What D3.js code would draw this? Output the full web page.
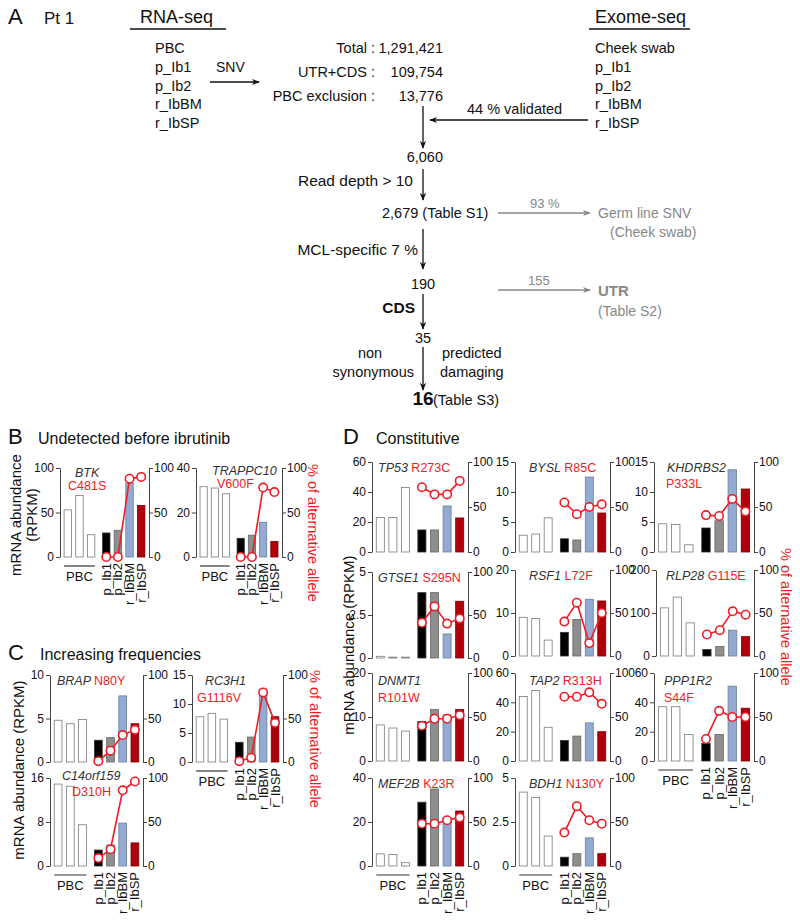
<!DOCTYPE html>
<html><head><meta charset="utf-8">
<script src="https://cdn.jsdelivr.net/npm/d3@7/dist/d3.min.js"></script>
<style>body{margin:0;background:#fff}svg{display:block}text{font-family:"Liberation Sans",Arial,Helvetica,sans-serif}</style>
</head><body><svg id="c" width="800" height="921"></svg>
<script>
// ---------- data ----------
const samples = ["PBC1","PBC2","PBC3","p_Ib1","p_Ib2","r_IbBM","r_IbSP"];
const treated = ["p_Ib1","p_Ib2","r_IbBM","r_IbSP"];
const rnaSamples = ["PBC","p_Ib1","p_Ib2","r_IbBM","r_IbSP"];
const exomeSamples = ["Cheek swab","p_Ib1","p_Ib2","r_IbBM","r_IbSP"];
const funnelLabels = ["Total :","UTR+CDS :","PBC exclusion :"];
const funnelValues = ["1,291,421","109,754","13,776"];

const BTK_rpkm = [53,69,25,27,30,83,58];         const BTK_alt = [0,0,88,90];
const TRAPPC10_rpkm = [31.6,31,28.4,8.4,9.8,15.6,7]; const TRAPPC10_alt = [0,0,78,73];
const BRAP_rpkm = [4.8,4.4,4.9,2.5,2.8,7.6,4.4];  const BRAP_alt = [1,13,31,37];
const RC3H1_rpkm = [7.8,8.4,7.4,3.4,4.3,11.5,7.8]; const RC3H1_alt = [1,5,80,45];
const C14orf159_rpkm = [14.9,14.5,7.5,2.9,3.8,7.8,4.2]; const C14orf159_alt = [9,19,86,96];
const TP53_rpkm = [23,23,43,14.7,14.7,30.7,22.7]; const TP53_alt = [72,64,64,79];
const BYSL_rpkm = [2.8,3.0,5.7,2.2,2.0,12.5,6.5]; const BYSL_alt = [55,42,50,53];
const KHDRBS2_rpkm = [4.7,4.6,1.2,4.0,5.2,13.7,10.5]; const KHDRBS2_alt = [41,40,59,45];
const GTSE1_rpkm = [0.1,0.05,0.05,3.8,3.8,1.4,3.3]; const GTSE1_alt = [41,60,40,46];
const RSF1_rpkm = [9,8.7,3.7,5.5,8.5,13.2,12.8]; const RSF1_alt = [40,62,15,50];
const RLP28_rpkm = [112,137,77,15,22,60,45]; const RLP28_alt = [25,30,52,48];
const DNMT1_rpkm = [8.2,7.5,6.8,9,11.7,10.5,11.7]; const DNMT1_alt = [40,48,48,52];
const TAP2_rpkm = [44,48,23,14,17,26,20]; const TAP2_alt = [73,73,78,65];
const PPP1R2_rpkm = [37,37,18,12,18,51,36]; const PPP1R2_alt = [25,57,50,50];
const MEF2B_rpkm = [5.5,5.2,1.5,29,35,22,25]; const MEF2B_alt = [48,48,52,55];
const BDH1_rpkm = [4.2,3.9,1.7,0.5,0.7,1.6,0.7]; const BDH1_alt = [38,68,52,48];

const altTicks = [0,50,100];

const charts = [
 {id:"BTK", gene:"BTK", mut:"C481S", rpkm:BTK_rpkm, alt:BTK_alt, yMax:100, ticks:[0,50,100]},
 {id:"TRAPPC10", gene:"TRAPPC10", mut:"V600F", rpkm:TRAPPC10_rpkm, alt:TRAPPC10_alt, yMax:40, ticks:[0,20,40]},
 {id:"BRAP", gene:"BRAP", mut:"N80Y", rpkm:BRAP_rpkm, alt:BRAP_alt, yMax:10, ticks:[0,5,10]},
 {id:"RC3H1", gene:"RC3H1", mut:"G1116V", rpkm:RC3H1_rpkm, alt:RC3H1_alt, yMax:15, ticks:[0,5,10,15]},
 {id:"C14orf159", gene:"C14orf159", mut:"D310H", rpkm:C14orf159_rpkm, alt:C14orf159_alt, yMax:16, ticks:[0,8,16]},
 {id:"TP53", gene:"TP53", mut:"R273C", rpkm:TP53_rpkm, alt:TP53_alt, yMax:60, ticks:[0,20,40,60]},
 {id:"BYSL", gene:"BYSL", mut:"R85C", rpkm:BYSL_rpkm, alt:BYSL_alt, yMax:15, ticks:[0,5,10,15]},
 {id:"KHDRBS2", gene:"KHDRBS2", mut:"P333L", rpkm:KHDRBS2_rpkm, alt:KHDRBS2_alt, yMax:15, ticks:[0,5,10,15]},
 {id:"GTSE1", gene:"GTSE1", mut:"S295N", rpkm:GTSE1_rpkm, alt:GTSE1_alt, yMax:5, ticks:[0,2.5,5]},
 {id:"RSF1", gene:"RSF1", mut:"L72F", rpkm:RSF1_rpkm, alt:RSF1_alt, yMax:20, ticks:[0,10,20]},
 {id:"RLP28", gene:"RLP28", mut:"G115E", rpkm:RLP28_rpkm, alt:RLP28_alt, yMax:200, ticks:[0,100,200]},
 {id:"DNMT1", gene:"DNMT1", mut:"R101W", rpkm:DNMT1_rpkm, alt:DNMT1_alt, yMax:20, ticks:[0,10,20]},
 {id:"TAP2", gene:"TAP2", mut:"R313H", rpkm:TAP2_rpkm, alt:TAP2_alt, yMax:60, ticks:[0,20,40,60]},
 {id:"PPP1R2", gene:"PPP1R2", mut:"S44F", rpkm:PPP1R2_rpkm, alt:PPP1R2_alt, yMax:60, ticks:[0,20,40,60]},
 {id:"MEF2B", gene:"MEF2B", mut:"K23R", rpkm:MEF2B_rpkm, alt:MEF2B_alt, yMax:40, ticks:[0,20,40]},
 {id:"BDH1", gene:"BDH1", mut:"N130Y", rpkm:BDH1_rpkm, alt:BDH1_alt, yMax:5, ticks:[0,2.5,5]}
];

// ---------- layout ----------
const layout = {
 BTK:{x0:60,x1:149,y0:468,y1:557,lab:"two",d:[15,9,8,22],xl:true},
 TRAPPC10:{x0:196,x1:282,y0:468,y1:557,lab:"two",d:[16,7,21,20],xl:true},
 BRAP:{x0:50,x1:143,y0:675,y1:762,lab:"one",d:[7,10]},
 RC3H1:{x0:192,x1:283,y0:675,y1:762,lab:"two",d:[13,10,5,27],xl:true},
 C14orf159:{x0:50,x1:143,y0:778,y1:866,lab:"two",d:[12,2,22,18],xl:true},
 TP53:{x0:372,x1:468,y0:462,y1:552,lab:"one",d:[6,10]},
 BYSL:{x0:515,x1:610,y0:462,y1:552,lab:"one",d:[14,10]},
 KHDRBS2:{x0:654,x1:754,y0:462,y1:552,lab:"two",d:[13,10,12,26]},
 GTSE1:{x0:372,x1:468,y0:572,y1:658,lab:"one",d:[6,10]},
 RSF1:{x0:515,x1:610,y0:570,y1:656,lab:"one",d:[14,10]},
 RLP28:{x0:656,x1:754,y0:570,y1:656,lab:"one",d:[10,10]},
 DNMT1:{x0:372,x1:468,y0:673,y1:761,lab:"two",d:[6,12,6,29]},
 TAP2:{x0:515,x1:610,y0:673,y1:761,lab:"one",d:[14,12]},
 PPP1R2:{x0:654,x1:754,y0:673,y1:761,lab:"two",d:[10,12,10,29],xl:true},
 MEF2B:{x0:372,x1:468,y0:778,y1:866,lab:"one",d:[6,10],xl:true},
 BDH1:{x0:515,x1:610,y0:778,y1:866,lab:"one",d:[14,10],xl:true}
};
const fills = ["#fff","#fff","#fff","#000","#8e8e8e","#93aad2","#b0000c"];
const strokes = ["#7a7a7a","#7a7a7a","#7a7a7a","#333","#666","#6f7f99","#700"];
const RED = "#ee1c25";
const pos = [0,1,2,3.3,4.3,5.3,6.3];

const svg = d3.select("#c");
const fmt = d3.format("~g");

function drawChart(c, L) {
  const g = svg.append("g").attr("class","chart");
  const x = d3.scaleLinear().domain([-0.5,6.8]).range([L.x0+2,L.x1-2]);
  const bw = (x(1)-x(0))*0.64;
  const y = d3.scaleLinear().domain([0,c.yMax]).range([L.y1,L.y0]);
  const y2 = d3.scaleLinear().domain([0,100]).range([L.y1,L.y0]);
  g.selectAll("rect").data(c.rpkm).join("rect")
    .attr("x",(d,i)=>x(pos[i])-bw/2).attr("y",d=>y(d))
    .attr("width",bw).attr("height",d=>y(0)-y(d))
    .attr("fill",(d,i)=>fills[i]).attr("stroke",(d,i)=>strokes[i]).attr("stroke-width",0.8);
  const ax = g.append("g").attr("transform",`translate(${L.x0},0)`)
    .call(d3.axisLeft(y).tickValues(c.ticks).tickSize(4).tickPadding(2).tickSizeOuter(0).tickFormat(fmt));
  const ax2 = g.append("g").attr("transform",`translate(${L.x1},0)`)
    .call(d3.axisRight(y2).tickValues(altTicks).tickSize(4).tickPadding(1).tickSizeOuter(0));
  [ax,ax2].forEach(a=>{
    a.select(".domain").attr("stroke","#444");
    a.selectAll(".tick line").attr("stroke","#444");
    a.selectAll("text").attr("font-size",12).attr("fill","#111").attr("font-family","Liberation Sans, Arial, sans-serif");
  });
  const pts = c.alt.map((v,i)=>[x(pos[i+3]), y2(v)]);
  g.append("path").attr("d",d3.line()(pts)).attr("fill","none").attr("stroke",RED).attr("stroke-width",1.6);
  g.selectAll("circle").data(pts).join("circle").attr("cx",d=>d[0]).attr("cy",d=>d[1]).attr("r",4.2)
    .attr("fill","#fff").attr("stroke",RED).attr("stroke-width",1.6);
  if (L.lab==="one") {
    const t = g.append("text").attr("x",L.x0+L.d[0]).attr("y",L.y0+L.d[1]).attr("font-size",12.5);
    t.append("tspan").attr("font-style","italic").attr("fill","#333").text(c.gene+" ");
    t.append("tspan").attr("fill",RED).text(c.mut);
  } else {
    g.append("text").attr("x",L.x0+L.d[0]).attr("y",L.y0+L.d[1]).attr("font-size",12.5)
      .attr("font-style","italic").attr("fill","#333").text(c.gene);
    g.append("text").attr("x",L.x0+L.d[2]).attr("y",L.y0+L.d[3]).attr("font-size",12.5)
      .attr("fill",RED).text(c.mut);
  }
  if (L.xl) {
    const y0 = L.y1;
    g.append("line").attr("x1",x(pos[0])-bw/2).attr("x2",x(pos[2])+bw/2)
      .attr("y1",y0+9).attr("y2",y0+9).attr("stroke","#333").attr("stroke-width",1.2);
    g.append("text").attr("x",x(pos[1])).attr("y",y0+24).attr("text-anchor","middle")
      .attr("font-size",13).attr("fill","#111").text("PBC");
    g.selectAll("text.xl").data(treated).join("text").attr("class","xl")
      .attr("transform",(d,i)=>`translate(${x(pos[i+3])+4.5},${y0+6}) rotate(-90)`)
      .attr("text-anchor","end").attr("font-size",13).attr("fill","#111").text(d=>d);
  }
}
charts.forEach(c=>drawChart(c, layout[c.id]));

function txt(x,y,s,opt={}) {
  const t = svg.append("text").attr("x",x).attr("y",y).text(s)
    .attr("font-size",opt.size||14).attr("fill",opt.fill||"#111");
  if(opt.anchor) t.attr("text-anchor",opt.anchor);
  if(opt.weight) t.attr("font-weight",opt.weight);
  if(opt.style) t.attr("font-style",opt.style);
  if(opt.rot!==undefined) t.attr("transform",`rotate(${opt.rot},${x},${y})`);
  return t;
}
txt(8,444,"B",{size:22}); txt(38,444,"Undetected before ibrutinib",{size:16});
txt(8,660,"C",{size:22}); txt(40,660,"Increasing frequencies",{size:16});
txt(343,444,"D",{size:22}); txt(376,444,"Constitutive",{size:16});

txt(21,515,"mRNA abundance",{size:15,anchor:"middle",rot:-90});
txt(37,515,"(RPKM)",{size:15,anchor:"middle",rot:-90});
txt(24,770,"mRNA abundance (RPKM)",{size:15,anchor:"middle",rot:-90});
txt(354,645,"mRNA abundance (RPKM)",{size:15,anchor:"middle",rot:-90});
txt(308,464,"% of alternative allele",{size:14.5,fill:RED,rot:90});
txt(310,670,"% of alternative allele",{size:14.5,fill:RED,rot:90});
txt(781,548,"% of alternative allele",{size:14.5,fill:RED,rot:90});

// ---------- panel A flow ----------
txt(8,24,"A",{size:22}); txt(44,24,"Pt 1",{size:17});
const defs = svg.append("defs");
defs.append("marker").attr("id","ah").attr("viewBox","0 0 10 10").attr("refX",9).attr("refY",5)
  .attr("markerWidth",8).attr("markerHeight",8).attr("orient","auto").attr("markerUnits","userSpaceOnUse")
  .append("path").attr("d","M0,1 L10,5 L0,9 L3,5 Z").attr("fill","#111");
defs.append("marker").attr("id","ahg").attr("viewBox","0 0 10 10").attr("refX",9).attr("refY",5)
  .attr("markerWidth",8).attr("markerHeight",8).attr("orient","auto").attr("markerUnits","userSpaceOnUse")
  .append("path").attr("d","M0,1 L10,5 L0,9 L3,5 Z").attr("fill","#888");
function arrow(x1,y1,x2,y2,gray){
  svg.append("line").attr("x1",x1).attr("y1",y1).attr("x2",x2).attr("y2",y2)
    .attr("stroke",gray?"#888":"#111").attr("stroke-width",1.3).attr("marker-end",`url(#${gray?"ahg":"ah"})`);
}
txt(140,23,"RNA-seq",{size:18});
svg.append("line").attr("x1",130).attr("x2",226).attr("y1",29).attr("y2",29).attr("stroke","#111").attr("stroke-width",1.5);
txt(595,23,"Exome-seq",{size:18});
svg.append("line").attr("x1",589).attr("x2",690).attr("y1",29).attr("y2",29).attr("stroke","#111").attr("stroke-width",1.5);
rnaSamples.forEach((s,i)=>txt(155,53+i*18.8,s,{size:14.5}));
exomeSamples.forEach((s,i)=>txt(595,53+i*18.8,s,{size:14.5}));
txt(216,72,"SNV",{size:14});
arrow(210,82,259,82);
funnelLabels.forEach((s,i)=>txt(375,[53,77,101][i],s,{size:14.5,anchor:"end"}));
funnelValues.forEach((s,i)=>txt(443,[53,77,101][i],s,{size:14.5,anchor:"end"}));
arrow(423,106,423,148);
txt(467,114,"44 % validated",{size:14.5});
arrow(588,120,430,120);
txt(443,162,"6,060",{size:14.5,anchor:"end"});
arrow(423,169,423,200);
txt(413,186,"Read depth > 10",{size:15.5,anchor:"end"});
txt(382,218,"2,679 (Table S1)",{size:14.5});
arrow(498,213,590,213,true);
txt(530,208,"93 %",{size:13,fill:"#888"});
txt(598,218,"Germ line SNV",{size:14,fill:"#888"});
txt(610,237,"(Cheek swab)",{size:14,fill:"#888"});
arrow(423,229,423,269);
txt(418,255,"MCL-specific 7 %",{size:15.5,anchor:"end"});
txt(423,289,"190",{size:14.5,anchor:"middle"});
arrow(498,290,590,290,true);
txt(528,285,"155",{size:13,fill:"#888"});
txt(598,296,"UTR",{size:15,fill:"#888",weight:"bold"});
txt(598,316,"(Table S2)",{size:14,fill:"#888"});
arrow(423,294,423,329);
txt(415,313,"CDS",{size:15.5,weight:"bold",anchor:"end"});
txt(423,343,"35",{size:14.5,anchor:"middle"});
arrow(423,347,423,390);
txt(370,358,"non",{size:14.5,anchor:"middle"});
txt(414,377,"synonymous",{size:14.5,anchor:"end"});
txt(442,358,"predicted",{size:14.5});
txt(440,377,"damaging",{size:14.5});
txt(423,405,"16",{size:19,weight:"bold",anchor:"middle"});
txt(433,405,"(Table S3)",{size:14.5});
</script></body></html>
